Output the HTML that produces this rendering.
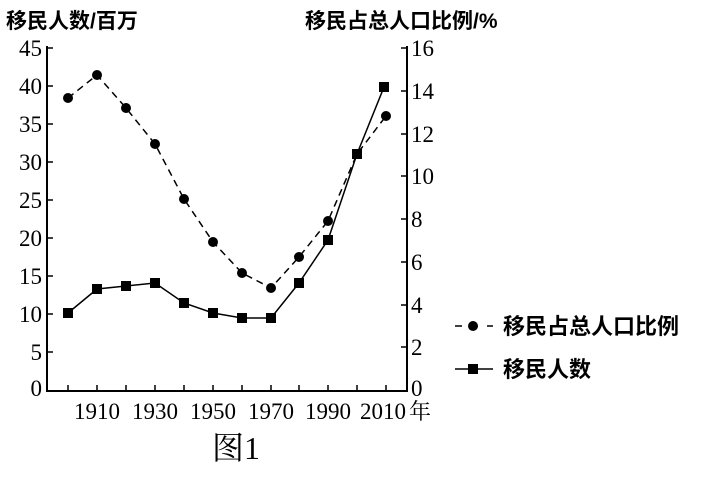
<!DOCTYPE html><html><head><meta charset="utf-8"><style>body{margin:0;background:#fff}svg{display:block}</style></head><body>
<svg width="709" height="477" viewBox="0 0 709 477" xmlns="http://www.w3.org/2000/svg">
<rect width="709" height="477" fill="#fff"/>
<g font-family="'Liberation Sans','Noto Sans CJK SC',sans-serif" font-weight="bold" font-size="21" fill="#000">
<text x="6" y="28">移民人数/百万</text>
<text x="305" y="28">移民占总人口比例/%</text>
<text x="503" y="334" font-size="22">移民占总人口比例</text>
<text x="503" y="377" font-size="22">移民人数</text>
</g>
<g stroke="#000" stroke-width="2" fill="none">
<polyline points="47,46 47,391 407,391 407,46"/>
<g stroke-width="1.5">
<line x1="47" y1="48" x2="53" y2="48"/><line x1="47" y1="86" x2="53" y2="86"/><line x1="47" y1="124" x2="53" y2="124"/><line x1="47" y1="162" x2="53" y2="162"/><line x1="47" y1="200" x2="53" y2="200"/><line x1="47" y1="238" x2="53" y2="238"/><line x1="47" y1="276" x2="53" y2="276"/><line x1="47" y1="314" x2="53" y2="314"/><line x1="47" y1="352" x2="53" y2="352"/>
<line x1="401" y1="48" x2="407" y2="48"/><line x1="401" y1="91" x2="407" y2="91"/><line x1="401" y1="134" x2="407" y2="134"/><line x1="401" y1="176" x2="407" y2="176"/><line x1="401" y1="219" x2="407" y2="219"/><line x1="401" y1="262" x2="407" y2="262"/><line x1="401" y1="305" x2="407" y2="305"/><line x1="401" y1="347" x2="407" y2="347"/>
<line x1="68" y1="385" x2="68" y2="391"/><line x1="97" y1="385" x2="97" y2="391"/><line x1="126" y1="385" x2="126" y2="391"/><line x1="155" y1="385" x2="155" y2="391"/><line x1="184" y1="385" x2="184" y2="391"/><line x1="213" y1="385" x2="213" y2="391"/><line x1="242" y1="385" x2="242" y2="391"/><line x1="271" y1="385" x2="271" y2="391"/><line x1="299" y1="385" x2="299" y2="391"/><line x1="328" y1="385" x2="328" y2="391"/><line x1="357" y1="385" x2="357" y2="391"/><line x1="386" y1="385" x2="386" y2="391"/>
</g>
</g>
<g font-family="'Liberation Serif',serif" font-size="23" fill="#000">
<g text-anchor="end">
<text x="42" y="56">45</text><text x="42" y="94">40</text><text x="42" y="132">35</text><text x="42" y="170">30</text><text x="42" y="208">25</text><text x="42" y="246">20</text><text x="42" y="284">15</text><text x="42" y="322">10</text><text x="42" y="360">5</text><text x="42" y="396">0</text>
</g>
<text x="411" y="56">16</text><text x="411" y="99">14</text><text x="411" y="142">12</text><text x="411" y="184">10</text><text x="411" y="227">8</text><text x="411" y="270">6</text><text x="411" y="313">4</text><text x="411" y="355">2</text><text x="411" y="396">0</text>
<g text-anchor="middle">
<text x="97" y="419">1910</text><text x="155" y="419">1930</text><text x="213" y="419">1950</text><text x="271" y="419">1970</text><text x="328" y="419">1990</text><text x="383" y="419">2010</text>
</g>
<text x="409" y="419" font-family="'Liberation Serif','Noto Serif CJK SC',serif" font-size="22">年</text>
<text x="212" y="459" font-size="32" font-family="'Liberation Serif','Noto Serif CJK SC',serif">图1</text>
</g>
<polyline fill="none" stroke="#000" stroke-width="1.5" stroke-dasharray="7,5" points="68,98 97,75 126,108 155,144 184,199 213,242 242,273 271,288 299,257 328,221 357,154 386,116"/>
<g fill="#000">
<circle cx="68" cy="98" r="5"/><circle cx="97" cy="75" r="5"/><circle cx="126" cy="108" r="5"/><circle cx="155" cy="144" r="5"/><circle cx="184" cy="199" r="5"/><circle cx="213" cy="242" r="5"/><circle cx="242" cy="273" r="5"/><circle cx="271" cy="288" r="5"/><circle cx="299" cy="257" r="5"/><circle cx="328" cy="221" r="5"/><circle cx="386" cy="116" r="5"/>
</g>
<polyline fill="none" stroke="#000" stroke-width="1.5" points="68,313 97,289 126,286 155,283 184,303 213,313 242,318 271,318 299,283 328,240 357,154 384,87"/>
<g fill="#000">
<rect x="63" y="308" width="10" height="10"/><rect x="92" y="284" width="10" height="10"/><rect x="121" y="281" width="10" height="10"/><rect x="150" y="278" width="10" height="10"/><rect x="179" y="298" width="10" height="10"/><rect x="208" y="308" width="10" height="10"/><rect x="237" y="313" width="10" height="10"/><rect x="266" y="313" width="10" height="10"/><rect x="294" y="278" width="10" height="10"/><rect x="323" y="235" width="10" height="10"/><rect x="352" y="149" width="10" height="10"/><rect x="379" y="82" width="10" height="10"/>
</g>
<line x1="455" y1="326" x2="493" y2="326" stroke="#000" stroke-width="1.5" stroke-dasharray="7,9"/>
<circle cx="473" cy="326" r="5" fill="#000"/>
<line x1="455" y1="369" x2="493" y2="369" stroke="#000" stroke-width="1.5"/>
<rect x="468" y="364" width="10" height="10" fill="#000"/>
</svg>
</body></html>
